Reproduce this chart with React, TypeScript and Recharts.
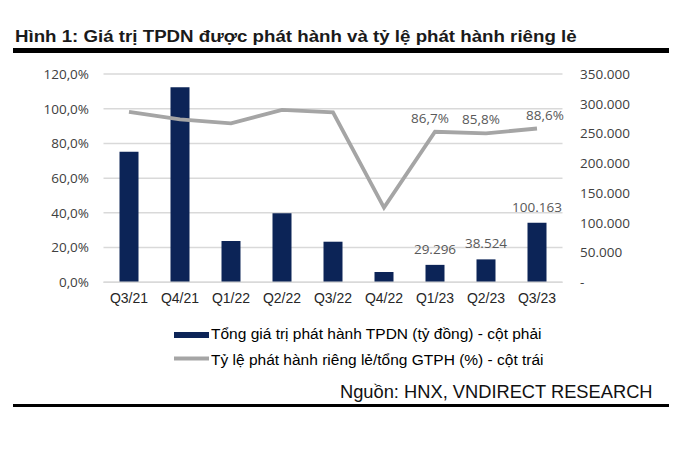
import React from 'react';
import { ComposedChart, Bar, Line, XAxis, YAxis, CartesianGrid, LabelList } from 'recharts';

const categories = ['Q3/21', 'Q4/21', 'Q1/22', 'Q2/22', 'Q3/22', 'Q4/22', 'Q1/23', 'Q2/23', 'Q3/23'];
const issuanceValues = [219400, 327600, 69400, 115900, 68200, 17300, 29296, 38524, 100163];
const privateRatio = [98.2, 93.9, 91.6, 99.3, 97.9, 43.0, 86.7, 85.8, 88.6];
const issuanceLabels = ['', '', '', '', '', '', '29.296', '38.524', '100.163'];
const ratioLabels = ['', '', '', '', '', '', '86,7%', '85,8%', '88,6%'];
const leftTicks = [0, 20, 40, 60, 80, 100, 120];
const rightTicks = [0, 50000, 100000, 150000, 200000, 250000, 300000, 350000];

const titleText = 'Hình 1: Giá trị TPDN được phát hành và tỷ lệ phát hành riêng lẻ';
const barName = 'Tổng giá trị phát hành TPDN (tỷ đồng) - cột phải';
const lineName = 'Tỷ lệ phát hành riêng lẻ/tổng GTPH (%) - cột trái';
const sourceText = 'Nguồn: HNX, VNDIRECT RESEARCH';

const data = categories.map((c, i) => ({
  cat: c,
  issuance: issuanceValues[i],
  ratio: privateRatio[i],
  issuanceLabel: issuanceLabels[i],
  ratioLabel: ratioLabels[i],
}));

const NAVY = '#0C2457';
const GRAY = '#A5A5A5';
const AXIS_FONT = '"Open Sans", "Noto Sans", sans-serif';
const ARIAL = '"Liberation Sans", Arial, sans-serif';

const fmtLeft = (v: number) => `${v.toFixed(1).replace('.', ',')}%`;
const fmtRight = (v: number) => (v === 0 ? '-' : v.toLocaleString('en-US').replace(/,/g, '.'));

const XTick = (props: any) => {
  const { x, y, payload } = props;
  return (
    <text x={x} y={y + 21} textAnchor="middle" fontFamily={ARIAL} fontSize={14} fill="#262626">
      {payload.value}
    </text>
  );
};

const RatioLabel = (props: any) => {
  const { x, y, value, index } = props;
  if (!value) return null;
  const dx = index === categories.length - 1 ? 8 : -5;
  return (
    <text x={x + dx} y={y - 9} textAnchor="middle" fontFamily={AXIS_FONT} fontSize={13.5} fill="#595959">
      {value}
    </text>
  );
};

export default function App() {
  return (
    <div style={{ position: 'relative', width: 700, height: 464, background: '#fff' }}>
      <style>{'body{margin:0;}'}</style>
      <svg width={700} height={464} style={{ position: 'absolute', left: 0, top: 0 }}>
        <text
          x={15}
          y={42}
          fontFamily={ARIAL}
          fontWeight="bold"
          fontSize={17}
          fill="#1a1a1a"
          transform="translate(15,0) scale(1.1,1) translate(-15,0)"
        >
          {titleText}
        </text>
        <rect x={13} y={48} width={656} height={5} fill="#000" />
        <g>
          <rect x={174} y={332} width={35} height={6} fill={NAVY} />
          <text x={211} y={338.5} fontFamily={ARIAL} fontSize={15.5} fill="#000">{barName}</text>
          <line x1={174} y1={358.5} x2={209} y2={358.5} stroke={GRAY} strokeWidth={4} />
          <text x={211} y={364.5} fontFamily={ARIAL} fontSize={15.5} fill="#000">{lineName}</text>
        </g>
        <text x={340} y={398} fontFamily={ARIAL} fontSize={18.3} fill="#111">{sourceText}</text>
        <rect x={13} y={404} width={656} height={3} fill="#000" />
      </svg>
      <div style={{ position: 'absolute', left: 0, top: 0 }}>
        <ComposedChart
          width={700}
          height={464}
          data={data}
          margin={{ top: 74, right: 57.5, left: 43.5, bottom: 151.7 }}
          barSize={19}
        >
          <CartesianGrid yAxisId="left" vertical={false} stroke="#D9D9D9" strokeWidth={1.5} />
          <XAxis
            dataKey="cat"
            height={30}
            axisLine={{ stroke: '#D9D9D9', strokeWidth: 1.5 }}
            tickLine={false}
            tickSize={0}
            tickMargin={0}
            tick={<XTick />}
            interval={0}
          />
          <YAxis
            yAxisId="left"
            orientation="left"
            width={60}
            domain={[0, 120]}
            ticks={leftTicks}
            tickFormatter={fmtLeft}
            axisLine={false}
            tickLine={false}
            tickSize={0}
            tickMargin={14.5}
            tick={{ fontFamily: AXIS_FONT, fontSize: 13.5, fill: '#404040' }}
          />
          <YAxis
            yAxisId="right"
            orientation="right"
            width={80}
            domain={[0, 350000]}
            ticks={rightTicks}
            tickFormatter={fmtRight}
            axisLine={false}
            tickLine={false}
            tickSize={0}
            tickMargin={17.5}
            tick={{ fontFamily: AXIS_FONT, fontSize: 13.5, fill: '#404040', textAnchor: 'start' }}
          />
          <Bar yAxisId="right" dataKey="issuance" name={barName} fill={NAVY} isAnimationActive={false}>
            <LabelList
              dataKey="issuanceLabel"
              position="top"
              offset={11}
              fontFamily={AXIS_FONT}
              fontSize={13.5}
              fill="#595959"
            />
          </Bar>
          <Line
            yAxisId="left"
            dataKey="ratio"
            name={lineName}
            type="linear"
            stroke={GRAY}
            strokeWidth={3.8}
            dot={false}
            activeDot={false}
            isAnimationActive={false}
          >
            <LabelList dataKey="ratioLabel" content={<RatioLabel />} />
          </Line>
        </ComposedChart>
      </div>
    </div>
  );
}
